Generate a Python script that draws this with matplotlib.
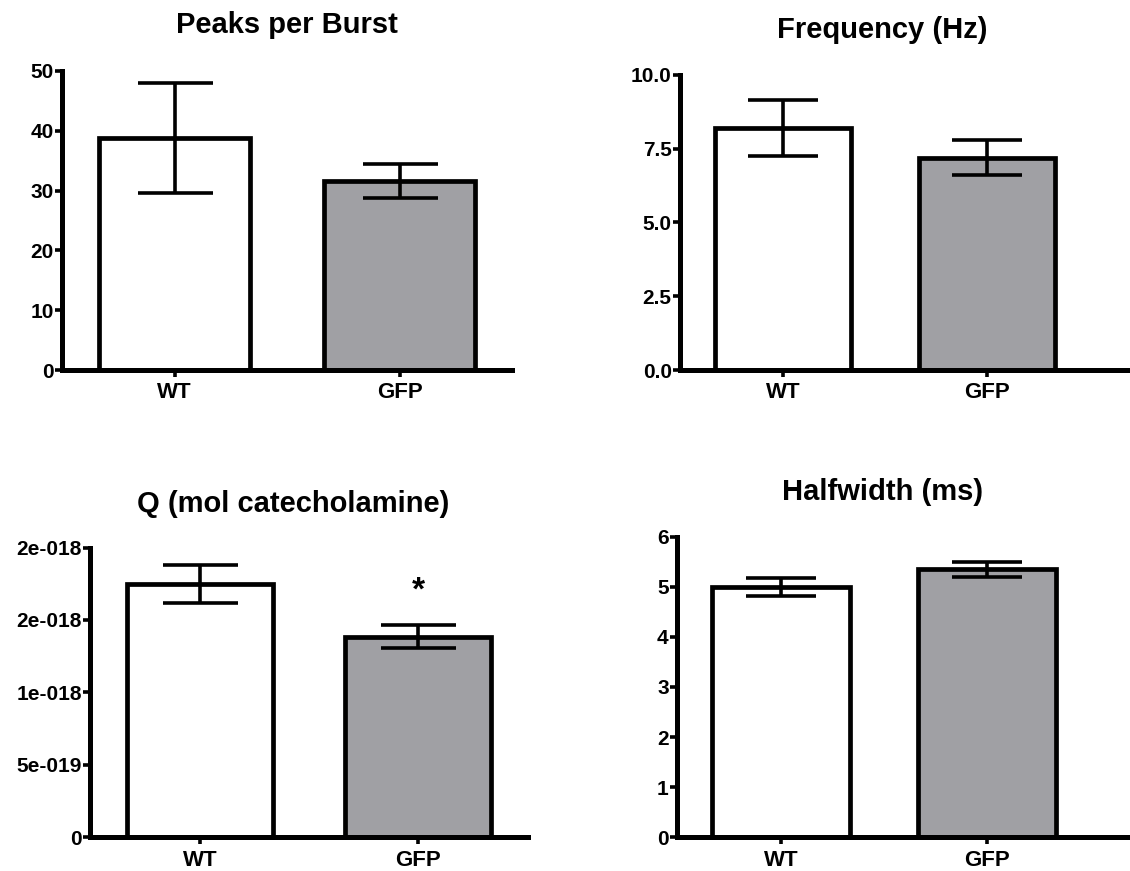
import matplotlib
matplotlib.use("Agg")
import matplotlib.pyplot as plt

# Gruppen und Messwerte (Mittelwert +/- SEM)
gruppen = ['WT', 'GFP']
farben = ['white', '#a0a0a4']

peaks_mean = [38.8, 31.6]
peaks_sem = [9.2, 2.8]

freq_mean = [8.2, 7.2]
freq_sem = [0.95, 0.58]

q_mean = [1.75e-18, 1.385e-18]
q_sem = [0.13e-18, 0.078e-18]

hw_mean = [5.0, 5.36]
hw_sem = [0.18, 0.15]

peaks_ticks = [0, 10, 20, 30, 40, 50]
freq_ticks = [0.0, 2.5, 5.0, 7.5, 10.0]
freq_ticklabels = ['0.0', '2.5', '5.0', '7.5', '10.0']
q_ticks = [0, 5e-19, 1e-18, 1.5e-18, 2e-18]
q_ticklabels = ['0', '5e-019', '1e-018', '2e-018', '2e-018']
hw_ticks = [0, 1, 2, 3, 4, 5, 6]

plt.rcParams['font.family'] = ['Liberation Sans', 'DejaVu Sans']
plt.rcParams['font.weight'] = 'bold'

W, H = 1130, 871
fig = plt.figure(figsize=(W / 100, H / 100), dpi=100)


def achse(links, rechts, oben, unten, xlim):
    # Pixelkoordinaten (von oben gemessen) -> Figure-Anteile
    ax = fig.add_axes([links / W, 1 - unten / H, (rechts - links) / W, (unten - oben) / H])
    ax.set_xlim(*xlim)
    return ax


def balken(ax, mean, sem, ymax, ticks, ticklabels, capsize):
    ax.bar(range(len(gruppen)), mean, width=0.667, color=farben, edgecolor='black',
           linewidth=3.4, zorder=2, clip_on=False)
    ax.errorbar(range(len(gruppen)), mean, yerr=sem, fmt='none', ecolor='black',
                elinewidth=2.6, capsize=capsize, capthick=2.6, zorder=3, clip_on=False)
    ax.set_ylim(0, ymax)
    ax.set_yticks(ticks)
    ax.set_yticklabels(ticklabels)
    ax.set_xticks(range(len(gruppen)))
    ax.set_xticklabels(gruppen)
    for s in ['top', 'right']:
        ax.spines[s].set_visible(False)
    for s in ['left', 'bottom']:
        ax.spines[s].set_linewidth(3.6)
        ax.spines[s].set_capstyle('projecting')
    ax.tick_params(axis='y', length=5, width=2.6, pad=1, labelsize=15)
    ax.tick_params(axis='x', length=5, width=2.6, pad=4, labelsize=16)
    for lab in ax.get_xticklabels() + ax.get_yticklabels():
        lab.set_fontweight('bold')


ax1 = achse(62, 512, 71, 370, (-0.5, 1.5))
balken(ax1, peaks_mean, peaks_sem, 50, peaks_ticks, [str(t) for t in peaks_ticks], 27)

ax2 = achse(680, 1130, 75, 370, (-0.505, 1.70))
balken(ax2, freq_mean, freq_sem, 10, freq_ticks, freq_ticklabels, 25)

ax3 = achse(90, 528, 547.5, 837, (-0.505, 1.505))
balken(ax3, q_mean, q_sem, 2e-18, q_ticks, q_ticklabels, 27)
ax3.text(1, 1.70e-18, '*', ha='center', va='center', fontsize=24, fontweight='bold')

ax4 = achse(677, 1130, 537, 837, (-0.505, 1.695))
balken(ax4, hw_mean, hw_sem, 6, hw_ticks, [str(t) for t in hw_ticks], 25.5)

# Titel frei positioniert
titel = [('Peaks per Burst', 287, 25), ('Frequency (Hz)', 882, 30),
         ('Q (mol catecholamine)', 293, 504), ('Halfwidth (ms)', 883, 492)]
for txt, x, y in titel:
    fig.text(x / W, 1 - y / H, txt, ha='center', va='center', fontsize=21, fontweight='bold')

plt.savefig('out.png', dpi=100)
